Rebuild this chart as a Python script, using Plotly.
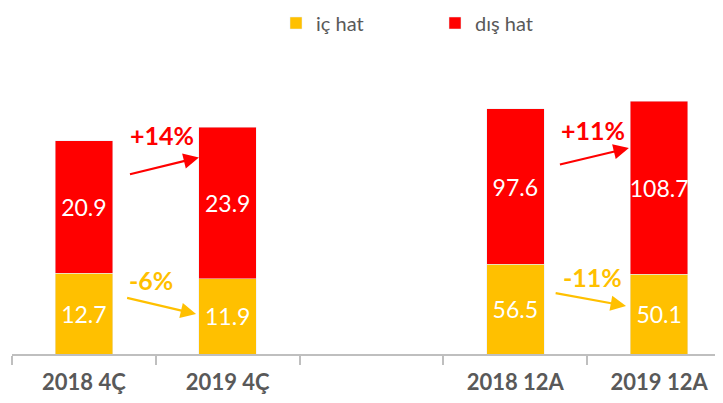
import plotly.graph_objects as go

categories = ["2018 4Ç", "2019 4Ç", " ", "2018 12A", "2019 12A"]
quarter_cats = ["2018 4Ç", "2019 4Ç"]
annual_cats = ["2018 12A", "2019 12A"]
quarter_ic = [12.7, 11.9]
quarter_dis = [20.9, 23.9]
annual_ic = [56.5, 50.1]
annual_dis = [97.6, 108.7]
series_names = ["iç hat", "dış hat"]
growth_labels = ["+14%", "-6%", "+11%", "-11%"]

YEL = "#FFC000"
RED = "#FF0000"
GRAY = "#595959"
FONT = "Lato, sans-serif"

fig = go.Figure()
common = dict(width=0.4, textposition="inside", insidetextanchor="middle",
              texttemplate="%{y:.1f}", textangle=0, constraintext="none",
              textfont=dict(color="white", size=23, family=FONT))
fig.add_trace(go.Bar(x=quarter_cats, y=quarter_ic, name=series_names[0], marker_color=YEL,
                     legendgroup="ic", yaxis="y", **common))
fig.add_trace(go.Bar(x=quarter_cats, y=quarter_dis, name=series_names[1], marker_color=RED,
                     legendgroup="dis", yaxis="y", **common))
fig.add_trace(go.Bar(x=annual_cats, y=annual_ic, name=series_names[0], marker_color=YEL,
                     legendgroup="ic", showlegend=False, yaxis="y2", **common))
fig.add_trace(go.Bar(x=annual_cats, y=annual_dis, name=series_names[1], marker_color=RED,
                     legendgroup="dis", showlegend=False, yaxis="y2", **common))

def arrow(x0, y0, x1, y1, color, yref):
    fig.add_annotation(x=x1, y=y1, ax=x0, ay=y0, xref="x", yref=yref, axref="x", ayref=yref,
                       text="", showarrow=True, arrowhead=2, arrowsize=1.4, arrowwidth=2.2,
                       arrowcolor=color, standoff=0)

def label(x, y, text, color, yref):
    fig.add_annotation(x=x, y=y, xref="x", yref=yref, text="<b>%s</b>" % text, showarrow=False,
                       font=dict(color=color, size=25, family=FONT))

arrow(0.31, 28.3, 0.80, 31.0, RED, "y")
label(0.54, 34.5, growth_labels[0], RED, "y")
arrow(0.29, 8.9, 0.78, 6.3, YEL, "y")
label(0.47, 11.7, growth_labels[1], YEL, "y")
arrow(3.30, 118.9, 3.79, 129.5, RED, "y2")
label(3.54, 140.9, growth_labels[2], RED, "y2")
arrow(3.27, 38.4, 3.77, 30.2, YEL, "y2")
label(3.54, 48.4, growth_labels[3], YEL, "y2")

fig.update_layout(
    barmode="stack",
    width=723, height=403,
    margin=dict(l=4, r=0, t=54, b=57, autoexpand=False),
    plot_bgcolor="white", paper_bgcolor="white",
    font=dict(family=FONT, color=GRAY),
    legend=dict(orientation="h", x=268 / 723, xref="container", xanchor="left",
                y=(349 - 18) / 292, yref="paper", yanchor="middle",
                font=dict(size=20, color=GRAY), entrywidth=114, entrywidthmode="pixels",
                traceorder="normal"),
    xaxis=dict(type="category", categoryorder="array", categoryarray=categories,
               range=[-0.5, 4.5], showline=True, linecolor="#BFBFBF", linewidth=1.5,
               ticks="outside", tickson="boundaries", ticklen=9, tickcolor="#BFBFBF",
               tickwidth=1.5, tickfont=dict(size=22, color=GRAY, family=FONT),
               ticklabelstandoff=8,
               showgrid=False, zeroline=False, automargin=False,
               tickprefix="<b>", ticksuffix="</b>"),
    yaxis=dict(range=[0, 46.06], visible=False, showgrid=False),
    yaxis2=dict(range=[0, 183.6], visible=False, showgrid=False, overlaying="y"),
    showlegend=True,
)
fig.write_html("out.html")
